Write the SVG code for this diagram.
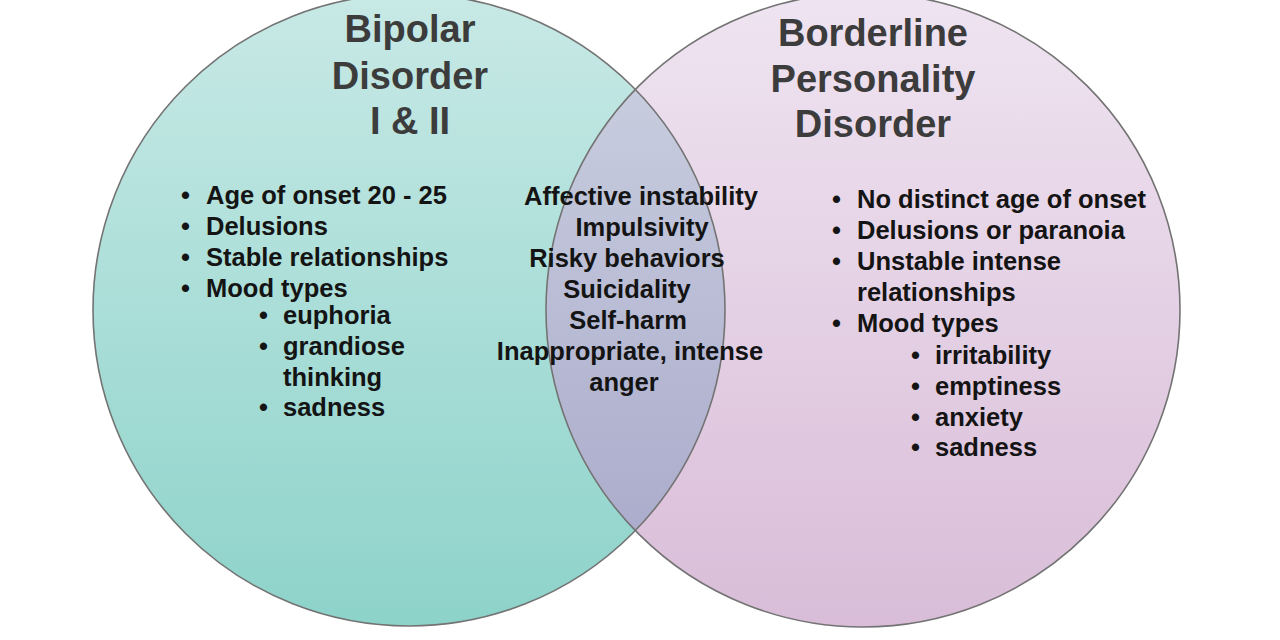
<svg xmlns="http://www.w3.org/2000/svg" width="1280" height="640" viewBox="0 0 1280 640">
<style>
.title{font-family:"Liberation Sans",Arial,sans-serif;font-weight:bold;font-size:38px;fill:#3c3c3c;text-anchor:middle}
.body{font-family:"Liberation Sans",Arial,sans-serif;font-weight:bold;font-size:25.5px;fill:#141414}
.mid{text-anchor:middle}
.ring{fill:none;stroke:#737373;stroke-width:1.6}
</style>
<defs>
<linearGradient id="gL" x1="0" y1="0" x2="0" y2="1">
<stop offset="0" stop-color="#c8e9e6"/>
<stop offset="1" stop-color="#8dd3ca"/>
</linearGradient>
<linearGradient id="gR" x1="0" y1="0" x2="0" y2="1">
<stop offset="0" stop-color="#efe4f1"/>
<stop offset="1" stop-color="#d9bdd8"/>
</linearGradient>
<linearGradient id="gI" x1="0" y1="0" x2="0" y2="1">
<stop offset="0" stop-color="#cdd3e2"/>
<stop offset="1" stop-color="#a6a6c8"/>
</linearGradient>
<clipPath id="cR"><circle cx="863" cy="310" r="317"/></clipPath>
</defs>
<rect width="1280" height="640" fill="#ffffff"/>
<g id="bipolar">
<circle cx="409" cy="310" r="316" fill="url(#gL)"/>
</g>
<g id="borderline">
<circle cx="863" cy="310" r="317" fill="url(#gR)"/>
</g>
<g id="overlap">
<circle cx="409" cy="310" r="316" fill="url(#gI)" clip-path="url(#cR)"/>
</g>
<g id="outlines">
<circle class="ring" cx="409" cy="310" r="316"/>
<circle class="ring" cx="863" cy="310" r="317"/>
</g>
<g id="bipolar-text">
<text class="title" x="410" y="42">Bipolar</text>
<text class="title" x="410" y="89">Disorder</text>
<text class="title" x="410" y="134">I &amp; II</text>
<text class="body" x="181" y="204">•</text><text class="body" x="206" y="204">Age of onset 20 - 25</text>
<text class="body" x="181" y="235">•</text><text class="body" x="206" y="235">Delusions</text>
<text class="body" x="181" y="266">•</text><text class="body" x="206" y="266">Stable relationships</text>
<text class="body" x="181" y="297">•</text><text class="body" x="206" y="297">Mood types</text>
<text class="body" x="259" y="324">•</text><text class="body" x="283" y="324">euphoria</text>
<text class="body" x="259" y="355">•</text><text class="body" x="283" y="355">grandiose</text>
<text class="body" x="283" y="386">thinking</text>
<text class="body" x="259" y="416">•</text><text class="body" x="283" y="416">sadness</text>
</g>
<g id="shared-text">
<text class="body mid" x="641" y="205">Affective instability</text>
<text class="body mid" x="642" y="236">Impulsivity</text>
<text class="body mid" x="627" y="267">Risky behaviors</text>
<text class="body mid" x="627" y="298">Suicidality</text>
<text class="body mid" x="628" y="329">Self-harm</text>
<text class="body mid" x="630" y="360">Inappropriate, intense</text>
<text class="body mid" x="624" y="391">anger</text>
</g>
<g id="borderline-text">
<text class="title" x="873" y="46">Borderline</text>
<text class="title" x="873" y="92">Personality</text>
<text class="title" x="873" y="137">Disorder</text>
<text class="body" x="832" y="208">•</text><text class="body" x="857" y="208">No distinct age of onset</text>
<text class="body" x="832" y="239">•</text><text class="body" x="857" y="239">Delusions or paranoia</text>
<text class="body" x="832" y="270">•</text><text class="body" x="857" y="270">Unstable intense</text>
<text class="body" x="857" y="301">relationships</text>
<text class="body" x="832" y="332">•</text><text class="body" x="857" y="332">Mood types</text>
<text class="body" x="911" y="364">•</text><text class="body" x="935" y="364">irritability</text>
<text class="body" x="911" y="395">•</text><text class="body" x="935" y="395">emptiness</text>
<text class="body" x="911" y="426">•</text><text class="body" x="935" y="426">anxiety</text>
<text class="body" x="911" y="456">•</text><text class="body" x="935" y="456">sadness</text>
</g>
</svg>
